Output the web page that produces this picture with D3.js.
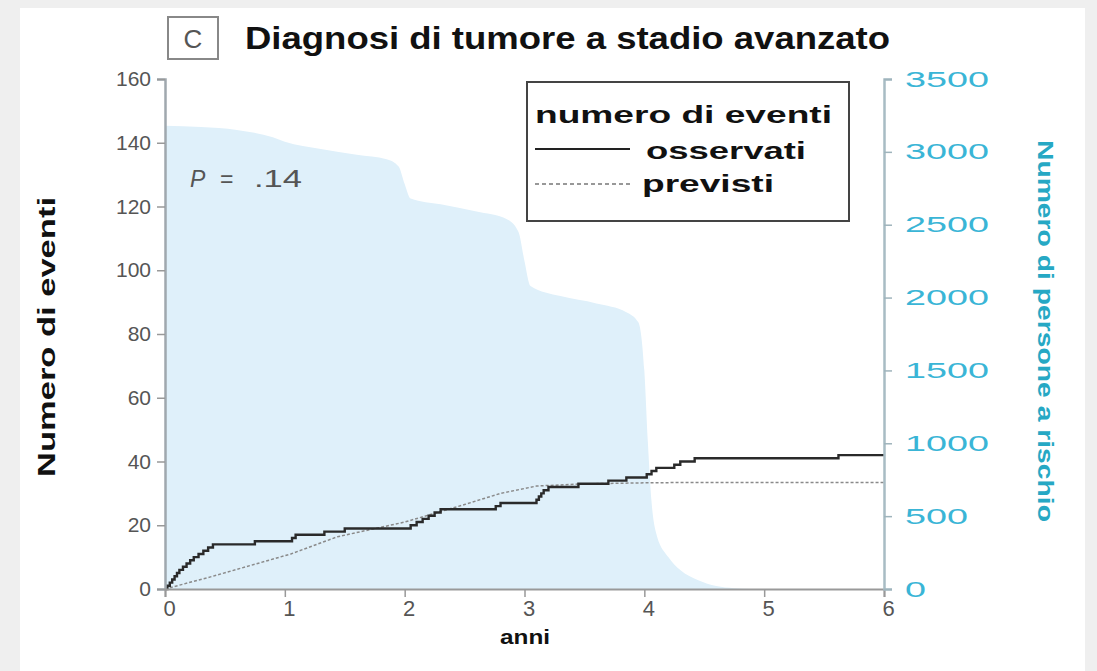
<!DOCTYPE html>
<html><head><meta charset="utf-8">
<script src="https://cdnjs.cloudflare.com/ajax/libs/d3/7.8.5/d3.min.js"></script>
<style>
html,body{margin:0;padding:0;background:#efefef;}
svg{display:block;}
</style></head>
<body><svg id="c" width="1097" height="671"></svg>
<script>
// ---- data ----
const xTicks = [0,1,2,3,4,5,6];
const yTicksLeft = [0,20,40,60,80,100,120,140,160];
const yTicksRight = [0,500,1000,1500,2000,2500,3000,3500];
// persone a rischio (step)
const riskTime  = [0,0.3,0.6,0.9,1.0,1.3,1.6,1.85,1.95,2.0,2.05,2.3,2.6,2.85,2.95,3.0,3.05,3.3,3.6,3.85,3.95,4.0,4.03,4.06,4.1,4.2,4.3,4.45,4.6,4.75,4.9,6];
const riskValue = [3180,3170,3150,3100,3070,3020,2980,2950,2900,2780,2680,2640,2590,2540,2450,2250,2080,2010,1960,1900,1830,1500,1000,600,380,220,130,60,20,5,0,0];
// eventi osservati (step)
const obsTime  = [0,0.02,0.04,0.06,0.08,0.10,0.12,0.15,0.18,0.21,0.24,0.28,0.32,0.36,0.40,0.75,1.06,1.09,1.33,1.50,2.05,2.10,2.15,2.20,2.25,2.30,2.76,2.80,3.10,3.12,3.14,3.16,3.20,3.45,3.70,3.85,4.02,4.06,4.10,4.25,4.30,4.42,5.62,6.0];
const obsValue = [0,1,2,3,4,5,6,7,8,9,10,11,12,13,14,15,16,17,18,19,20,21,22,23,24,25,26,27,28,29,30,31,32,33,34,35,36,37,38,39,40,41,42,42];
// eventi previsti
const expTime  = [0,0.38,1.05,1.44,2.0,2.5,2.8,3.1,3.5,4.0,4.3,6.0];
const expValue = [0,3.8,11,16.4,21,26.5,30,32.3,33.0,33.3,33.4,33.4];

const svg = d3.select("#c");
// frame
svg.append("rect").attr("x",20).attr("y",8).attr("width",1065).attr("height",663).attr("fill","#fff");

const x = d3.scaleLinear().domain([0,6]).range([165,884]);
const y = d3.scaleLinear().domain([0,160]).range([589,79]);
const yR = d3.scaleLinear().domain([0,3500]).range([589,79]);

const risk = riskTime.map((t,i)=>({t, v:riskValue[i]}));
const obs = obsTime.map((t,i)=>({t, v:obsValue[i]}));
const exp = expTime.map((t,i)=>({t, v:expValue[i]}));

// area
svg.append("path").datum(risk)
  .attr("fill","#dff0fa")
  .attr("d", d3.area().x(d=>x(d.t)).y0(yR(0)).y1(d=>yR(d.v)).curve(d3.curveMonotoneX));

// expected
svg.append("path").datum(exp)
  .attr("fill","none").attr("stroke","#8a8a8a").attr("stroke-width",1.5)
  .attr("stroke-dasharray","3,2")
  .attr("d", d3.line().x(d=>x(d.t)).y(d=>y(d.v)));

// observed
svg.append("path").datum(obs)
  .attr("fill","none").attr("stroke","#2a2a2a").attr("stroke-width",2.4)
  .attr("d", d3.line().x(d=>x(d.t)).y(d=>y(d.v)).curve(d3.curveStepAfter));

const tickFont = "'Liberation Sans', Arial, sans-serif";
// left axis
const gL = svg.append("g").attr("transform","translate(165,0)")
  .call(d3.axisLeft(y).tickValues(yTicksLeft).tickSize(8).tickPadding(6).tickFormat(d3.format("d")));
gL.select(".domain").attr("stroke","#a0a8ae").attr("stroke-width",2.5);
gL.selectAll(".tick line").attr("stroke","#999").attr("stroke-width",1.5);
gL.selectAll(".tick text").attr("fill","#555").style("font-family",tickFont).style("font-size","21px");

// bottom axis
const gB = svg.append("g").attr("transform","translate(0,589)")
  .call(d3.axisBottom(x).tickValues(xTicks).tickSize(8).tickPadding(3).tickFormat(d3.format("d")));
gB.select(".domain").attr("stroke","#999").attr("stroke-width",2);
gB.selectAll(".tick line").attr("stroke","#999").attr("stroke-width",1.5);
gB.selectAll(".tick text").attr("fill","#555").style("font-family",tickFont).style("font-size","22px")
  .attr("dx",4);

// right axis
const gR = svg.append("g").attr("transform","translate(884,0)")
  .call(d3.axisRight(yR).tickValues(yTicksRight).tickSize(8).tickPadding(13).tickFormat(d3.format("d")));
gR.select(".domain").attr("stroke","#a8bcc4").attr("stroke-width",2.5);
gR.selectAll(".tick line").attr("stroke","#9fb4bc").attr("stroke-width",1.5);
gR.selectAll(".tick text").attr("fill","#3ab5d6").style("font-family",tickFont).style("font-size","22px")
  .attr("textLength", d => String(d).length * 21).attr("lengthAdjust","spacingAndGlyphs");

const boldNarrow = "'Liberation Sans Narrow', 'Liberation Sans', Arial, sans-serif";
// axis titles
svg.append("text").attr("transform","translate(55,337) rotate(-90)")
  .attr("text-anchor","middle").attr("fill","#111")
  .style("font-family",boldNarrow).style("font-weight","bold").style("font-size","23px")
  .attr("textLength",280).attr("lengthAdjust","spacingAndGlyphs")
  .text("Numero di eventi");
svg.append("text").attr("transform","translate(1038,331) rotate(90)")
  .attr("text-anchor","middle").attr("fill","#26a8c4")
  .style("font-family",boldNarrow).style("font-weight","bold").style("font-size","22px")
  .attr("textLength",382).attr("lengthAdjust","spacingAndGlyphs")
  .text("Numero di persone a rischio");
svg.append("text").attr("x",525).attr("y",644)
  .attr("text-anchor","middle").attr("fill","#111")
  .style("font-family",boldNarrow).style("font-weight","bold").style("font-size","20px")
  .attr("textLength",50).attr("lengthAdjust","spacingAndGlyphs")
  .text("anni");

// title
svg.append("rect").attr("x",168).attr("y",17).attr("width",50).attr("height",42)
  .attr("fill","#fff").attr("stroke","#888").attr("stroke-width",2);
svg.append("text").attr("x",193).attr("y",48).attr("text-anchor","middle").attr("fill","#555")
  .style("font-family",tickFont).style("font-size","26px").text("C");
svg.append("text").attr("x",245).attr("y",49).attr("fill","#111")
  .style("font-family",boldNarrow).style("font-weight","bold").style("font-size","31px")
  .attr("textLength",645).attr("lengthAdjust","spacingAndGlyphs")
  .text("Diagnosi di tumore a stadio avanzato");

// P value
svg.append("text").attr("x",190).attr("y",187).attr("fill","#555")
  .style("font-family",tickFont).style("font-size","23px").style("font-style","italic")
  .text("P");
svg.append("text").attr("x",220).attr("y",187).attr("fill","#555")
  .style("font-family",tickFont).style("font-size","23px")
  .text("=");
svg.append("text").attr("x",254).attr("y",187).attr("fill","#555")
  .style("font-family",tickFont).style("font-size","23px")
  .attr("textLength",48).attr("lengthAdjust","spacingAndGlyphs")
  .text(".14");

// legend
svg.append("rect").attr("x",527).attr("y",82).attr("width",322).attr("height",139)
  .attr("fill","#fff").attr("stroke","#444").attr("stroke-width",2);
const legFont = "'Liberation Sans', Arial, sans-serif";
svg.append("text").attr("x",535).attr("y",123).attr("fill","#111")
  .style("font-family",legFont).style("font-weight","bold").style("font-size","23px")
  .attr("textLength",297).attr("lengthAdjust","spacingAndGlyphs")
  .text("numero di eventi");
svg.append("line").attr("x1",535).attr("x2",630).attr("y1",149).attr("y2",149)
  .attr("stroke","#222").attr("stroke-width",2);
svg.append("text").attr("x",646).attr("y",159).attr("fill","#111")
  .style("font-family",legFont).style("font-weight","bold").style("font-size","23px")
  .attr("textLength",160).attr("lengthAdjust","spacingAndGlyphs")
  .text("osservati");
svg.append("line").attr("x1",535).attr("x2",630).attr("y1",184).attr("y2",184)
  .attr("stroke","#777").attr("stroke-width",1.5).attr("stroke-dasharray","4,3");
svg.append("text").attr("x",642).attr("y",192).attr("fill","#111")
  .style("font-family",legFont).style("font-weight","bold").style("font-size","23px")
  .attr("textLength",132).attr("lengthAdjust","spacingAndGlyphs")
  .text("previsti");
</script></body></html>
